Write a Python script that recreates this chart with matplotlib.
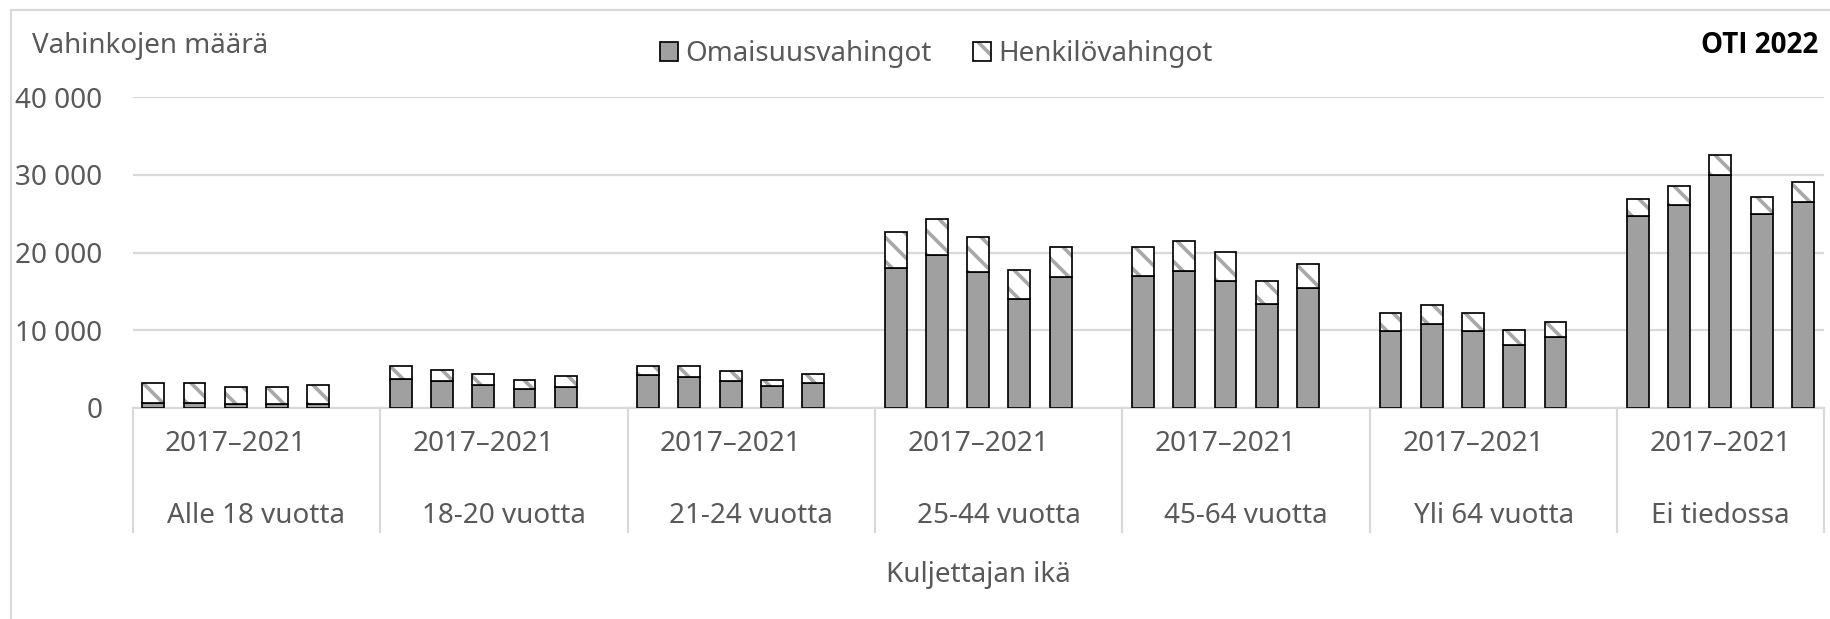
import numpy as np
import matplotlib.pyplot as plt
from matplotlib.patches import Patch, Rectangle
from matplotlib.legend_handler import HandlerTuple

# dpi 72 -> one point is one pixel, and the hatch gets the finer Excel spacing
DPI = 72
plt.rcParams.update({
    "font.family": ["Noto Sans", "DejaVu Sans"],
    "font.size": 27.8,
    "hatch.linewidth": 3.6,
    "text.color": "#595959",
})

# data
groups = ['Alle 18 vuotta', '18-20 vuotta', '21-24 vuotta', '25-44 vuotta',
          '45-64 vuotta', 'Yli 64 vuotta', 'Ei tiedossa']
period = '2017–2021'
years = [2017, 2018, 2019, 2020, 2021]
omaisuus = [
    [600, 580, 560, 550, 560],
    [3750, 3450, 2930, 2460, 2720],
    [4220, 4050, 3450, 2800, 3230],
    [18020, 19660, 17500, 14050, 16900],
    [16980, 17670, 16290, 13360, 15430],
    [9910, 10780, 9910, 8060, 9180],
    [24660, 26120, 29960, 25000, 26510],
]
henkilo = [
    [2630, 2650, 2160, 2170, 2370],
    [1640, 1420, 1470, 1120, 1370],
    [1170, 1340, 1290, 780, 1170],
    [4700, 4690, 4480, 3710, 3790],
    [3710, 3880, 3750, 3020, 3100],
    [2290, 2450, 2290, 1980, 1900],
    [2280, 2500, 2670, 2110, 2580],
]
yticks = [0, 10000, 20000, 30000, 40000]

om_col = '#a0a0a0'
hatch_col = '#a8a8a8'
grid_col = '#d9d9d9'
txt_col = '#595959'
lw_bar = 1.7
lw_grid = 2.2

fig = plt.figure(figsize=(1830/DPI, 619/DPI), dpi=DPI)
ax = fig.add_axes([132.7/1830, 1-408/619, (1823.5-132.7)/1830, (408-97.3)/619])

ny = len(years)
x = np.array([6*g + i for g in range(len(groups)) for i in range(ny)])
om = np.array(omaisuus).ravel()
he = np.array(henkilo).ravel()
w = 0.53

ax.bar(x, om, w, color=om_col, edgecolor='black', linewidth=lw_bar, zorder=3)
ax.bar(x, he, w, bottom=om, color='white', edgecolor=hatch_col, hatch='\\',
       linewidth=0, zorder=3)
ax.bar(x, he, w, bottom=om, fill=False, edgecolor='black', linewidth=lw_bar, zorder=4)

ax.set_xlim(-0.5, 6*len(groups) - 1.5)
ax.set_ylim(0, 40000)
ax.set_yticks(yticks)
ax.set_yticklabels([f'{v:,}'.replace(',', ' ') for v in yticks], color=txt_col)
ax.tick_params(axis='y', length=0, pad=30.5)
ax.set_xticks([])
ax.grid(axis='y', color=grid_col, linewidth=lw_grid, zorder=0)
for s in ['left', 'right', 'top']:
    ax.spines[s].set_visible(False)
ax.spines['bottom'].set_color(grid_col)
ax.spines['bottom'].set_linewidth(lw_grid)

# multi-level category labels
tr = ax.get_xaxis_transform()
for g, name in enumerate(groups):
    ax.text(6*g + 2, -0.116, period, transform=tr, ha='center', va='center',
            color=txt_col)
    cx = 6*g + 2.5 if g < len(groups) - 1 else 6*g + 2
    ax.text(cx, -0.347, name, transform=tr, ha='center', va='center',
            color=txt_col)
    ax.plot([6*g - 0.5]*2, [0, -0.399], transform=tr, color=grid_col,
            linewidth=lw_grid, clip_on=False)
ax.plot([6*len(groups) - 1.5]*2, [0, -0.399], transform=tr, color=grid_col,
        linewidth=lw_grid, clip_on=False)
ax.text(0.5, -0.537, 'Kuljettajan ikä', transform=ax.transAxes, ha='center',
        va='center', color=txt_col)

# legend
h_om = Patch(facecolor=om_col, edgecolor='black', linewidth=lw_bar)
h_he1 = Patch(facecolor='white', edgecolor=hatch_col, hatch='\\', linewidth=0)
h_he2 = Patch(fill=False, edgecolor='black', linewidth=lw_bar)
fig.legend([h_om, (h_he1, h_he2)], ['Omaisuusvahingot', 'Henkilövahingot'],
           handler_map={tuple: HandlerTuple(ndivide=1, pad=0)},
           loc='center', bbox_to_anchor=(936/1830, 1-54/619), ncol=2,
           frameon=False, handlelength=0.65, handleheight=0.65,
           handletextpad=0.25, columnspacing=1.5, labelcolor=txt_col)

fig.text(32/1830, 1-53/619, 'Vahinkojen määrä', ha='left', va='baseline',
         color=txt_col)
fig.text(1818/1830, 1-53/619, 'OTI 2022', ha='right', va='baseline',
         color='black', fontweight='bold', family=['Open Sans', 'DejaVu Sans'])

# chart frame
fig.patches.append(Rectangle((11/1830, -0.1), 1.2, 1.1 - 10/619,
                             transform=fig.transFigure, fill=False,
                             edgecolor=grid_col, linewidth=lw_grid))

plt.savefig('out.png', dpi=DPI)
